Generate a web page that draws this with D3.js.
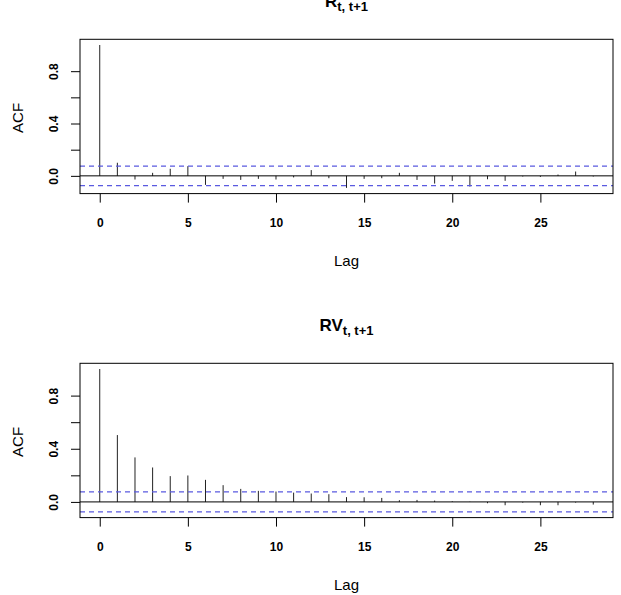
<!DOCTYPE html>
<html>
<head>
<meta charset="utf-8">
<script src="https://cdn.jsdelivr.net/npm/d3@7"></script>
<style>
  body { margin: 0; background: #fff; }
  svg { display: block; font-family: "Liberation Sans", Arial, sans-serif; }
</style>
</head>
<body>
<script>
// data

var lags = [0, 1, 2, 3, 4, 5, 6, 7, 8, 9, 10, 11, 12, 13, 14,
            15, 16, 17, 18, 19, 20, 21, 22, 23, 24, 25, 26, 27, 28];

var acfR = [1.000, 0.100, -0.028, 0.023, 0.054, 0.074, -0.069, -0.023, -0.031, -0.023,
            -0.028, -0.012, 0.044, -0.018, -0.092, -0.023, -0.018, 0.023, -0.031, -0.059,
            -0.038, -0.082, -0.026, -0.038, -0.005, -0.008, 0.010, 0.033, -0.005];

var acfRV = [1.000, 0.503, 0.335, 0.259, 0.194, 0.199, 0.166, 0.126, 0.098, 0.083,
             0.078, 0.070, 0.063, 0.058, 0.036, 0.035, 0.030, 0.013, 0.015, 0.010,
             0.005, 0.002, -0.010, -0.025, -0.005, -0.025, -0.025, -0.005, -0.020];

var ciLimit = 0.075;

var xTicks = [0, 5, 10, 15, 20, 25];
var yTicks = [0, 0.2, 0.4, 0.6, 0.8];
var yTickLabels = ["0.0", "", "0.4", "", "0.8"];

var panels = [
  { main: "R", sub: "t, t+1", values: acfR, top: 39.3 },
  { main: "RV", sub: "t, t+1", values: acfRV, top: 363.3 }
];

// layout

var width = 621, height = 595;
var plotLeft = 80, plotRight = 613, plotHeight = 154.3;

var svg = d3.select("body").append("svg")
    .attr("width", width)
    .attr("height", height);

// R style 4% range extension
function pad(ext) {
  var d = (ext[1] - ext[0]) * 0.04;
  return [ext[0] - d, ext[1] + d];
}

function drawPanel(p, i) {
  var top = p.top, bottom = top + plotHeight;
  var cx = (plotLeft + plotRight) / 2;

  var x = d3.scaleLinear()
      .domain(pad([0, d3.max(lags)]))
      .range([plotLeft, plotRight]);
  var y = d3.scaleLinear()
      .domain(pad([Math.min(d3.min(p.values), -ciLimit), Math.max(d3.max(p.values), ciLimit)]))
      .range([bottom, top]);

  var g = svg.append("g").attr("class", "panel");

  g.append("clipPath").attr("id", "clip" + i)
    .append("rect")
      .attr("x", plotLeft).attr("y", top)
      .attr("width", plotRight - plotLeft).attr("height", plotHeight);

  var plot = g.append("g").attr("clip-path", "url(#clip" + i + ")");

  // spikes
  plot.selectAll("line.spike")
      .data(p.values)
    .enter().append("line")
      .attr("class", "spike")
      .attr("x1", function(d, j) { return x(lags[j]); })
      .attr("x2", function(d, j) { return x(lags[j]); })
      .attr("y1", y(0))
      .attr("y2", function(d) { return y(d); })
      .attr("stroke", "#222")
      .attr("stroke-width", 1);

  // zero line
  plot.append("line")
      .attr("x1", plotLeft).attr("x2", plotRight)
      .attr("y1", y(0)).attr("y2", y(0))
      .attr("stroke", "#000").attr("stroke-width", 1);

  // confidence bounds
  plot.selectAll("line.ci")
      .data([ciLimit, -ciLimit])
    .enter().append("line")
      .attr("class", "ci")
      .attr("x1", plotLeft).attr("x2", plotRight)
      .attr("y1", function(d) { return y(d); })
      .attr("y2", function(d) { return y(d); })
      .attr("stroke", "#5a5ae0")
      .attr("stroke-width", 1.2)
      .attr("stroke-dasharray", "5,4");

  // box
  g.append("rect")
      .attr("x", plotLeft).attr("y", top)
      .attr("width", plotRight - plotLeft).attr("height", plotHeight)
      .attr("fill", "none").attr("stroke", "#000").attr("stroke-width", 1);

  // x axis
  var xAxis = g.append("g")
      .attr("transform", "translate(0," + bottom + ")")
      .call(d3.axisBottom(x).tickValues(xTicks).tickSize(9).tickFormat(d3.format("d")));
  xAxis.select(".domain").remove();
  xAxis.selectAll("text")
      .attr("y", 33.4).attr("dy", null)
      .attr("font-size", 12).attr("font-weight", "bold")
      .attr("font-family", "Liberation Sans, Arial, sans-serif")
      .attr("fill", "#000");

  // y axis
  var yAxis = g.append("g")
      .attr("transform", "translate(" + plotLeft + ",0)")
      .call(d3.axisLeft(y).tickValues(yTicks).tickSize(9)
        .tickFormat(function(d, j) { return yTickLabels[j]; }));
  yAxis.select(".domain").remove();
  yAxis.selectAll("text")
      .attr("x", 0).attr("y", -22).attr("dy", null)
      .attr("text-anchor", "middle")
      .attr("transform", "rotate(-90)")
      .attr("font-size", 12).attr("font-weight", "bold")
      .attr("font-family", "Liberation Sans, Arial, sans-serif")
      .attr("fill", "#000");

  // axis titles
  g.append("text")
      .attr("x", cx).attr("y", bottom + 72)
      .attr("text-anchor", "middle")
      .attr("font-size", 15)
      .text("Lag");
  g.append("text")
      .attr("transform", "translate(23," + ((top + bottom) / 2 + 1.5) + ") rotate(-90)")
      .attr("text-anchor", "middle")
      .attr("font-size", 15)
      .text("ACF");

  // main title with subscript
  var title = g.append("text")
      .attr("x", cx).attr("y", top - 32)
      .attr("text-anchor", "middle")
      .attr("font-weight", "bold");
  title.append("tspan").attr("font-size", 17).text(p.main);
  title.append("tspan").attr("font-size", 13).attr("dy", 4).text(p.sub);
}

panels.forEach(drawPanel);
</script>
</body>
</html>
